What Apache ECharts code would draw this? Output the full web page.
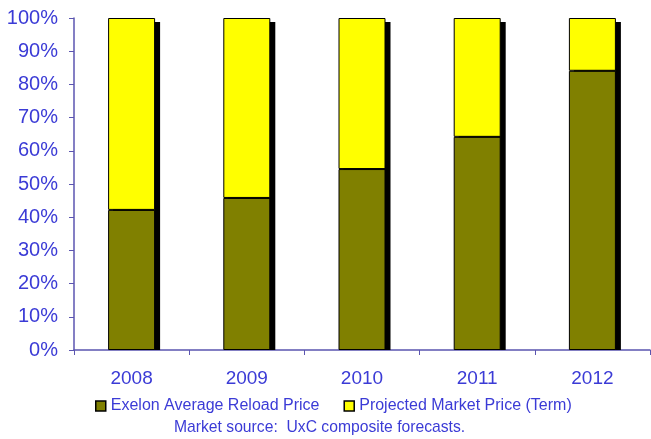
<!DOCTYPE html>
<html>
<head>
<meta charset="utf-8">
<script src="https://cdn.jsdelivr.net/npm/echarts@6/dist/echarts.min.js"></script>
<style>
  html, body { margin: 0; padding: 0; background: #ffffff; }
  #chart { width: 651px; height: 439px; }
</style>
</head>
<body>
<div id="chart"></div>
<script>
// Share of total fuel price, in percent, per year
const years = ['2008', '2009', '2010', '2011', '2012'];
const reloadShare = [42.2, 45.8, 54.5, 64.2, 84.1];
const marketShare = [57.8, 54.2, 45.5, 35.8, 15.9];
const yTicks = [0, 10, 20, 30, 40, 50, 60, 70, 80, 90, 100];

const textBlue = '#3b3bd6';
const axisColor = '#5b55b0';
const font = 'Liberation Sans, Arial, sans-serif';
const BAR_W = 47;

const chart = echarts.init(document.getElementById('chart'), null, { renderer: 'canvas' });

const barStyle = (color) => ({
  color: color,
  borderColor: '#000000',
  borderWidth: 1
});

// Drop shadow behind each full stacked column
function renderShadow(params, api) {
  const top = api.coord([api.value(0), api.value(1)]);
  const base = api.coord([api.value(0), 0]);
  return {
    type: 'rect',
    shape: {
      x: top[0] - BAR_W / 2 + 5,
      y: top[1] + 4,
      width: BAR_W,
      height: base[1] - top[1] - 4
    },
    style: { fill: '#000000' }
  };
}

chart.setOption({
  animation: false,
  backgroundColor: '#ffffff',
  grid: { left: 74, right: 1, top: 18, bottom: 89 },
  xAxis: {
    type: 'category',
    data: years,
    axisLine: { lineStyle: { color: axisColor, width: 1.5 } },
    axisTick: { show: true, length: 5, lineStyle: { color: axisColor } },
    axisLabel: { color: textBlue, fontSize: 19, fontFamily: font, margin: 19 }
  },
  yAxis: {
    type: 'value',
    min: yTicks[0],
    max: yTicks[yTicks.length - 1],
    interval: 10,
    axisLine: { show: true, lineStyle: { color: axisColor, width: 1.5 } },
    axisTick: { show: true, length: 5, lineStyle: { color: axisColor } },
    splitLine: { show: false },
    axisLabel: { color: textBlue, fontSize: 20, fontFamily: font, margin: 16, formatter: '{value}%' }
  },
  legend: {
    top: 398,
    left: 95,
    padding: 0,
    itemWidth: 10,
    itemHeight: 10,
    itemGap: 24,
    textStyle: { color: textBlue, fontSize: 16, fontFamily: font },
    data: [
      { name: 'Exelon Average Reload Price', icon: 'rect', itemStyle: { color: '#808000', borderColor: '#000', borderWidth: 1.5 } },
      { name: 'Projected Market Price (Term)', icon: 'rect', itemStyle: { color: '#ffff00', borderColor: '#000', borderWidth: 1.5 } }
    ]
  },
  graphic: [{
    type: 'text',
    left: 174,
    top: 420,
    style: { text: 'Market source:  UxC composite forecasts.', fill: textBlue, fontSize: 15.7, fontFamily: font }
  }],
  series: [
    {
      name: 'shadow',
      type: 'custom',
      z: 1,
      silent: true,
      renderItem: renderShadow,
      data: years.map((y, i) => [i, reloadShare[i] + marketShare[i]])
    },
    {
      name: 'Exelon Average Reload Price',
      type: 'bar',
      stack: 'total',
      z: 2,
      barWidth: BAR_W,
      data: reloadShare,
      itemStyle: barStyle('#808000')
    },
    {
      name: 'Projected Market Price (Term)',
      type: 'bar',
      stack: 'total',
      z: 2,
      barWidth: BAR_W,
      data: marketShare,
      itemStyle: barStyle('#ffff00')
    }
  ]
});
</script>
</body>
</html>
